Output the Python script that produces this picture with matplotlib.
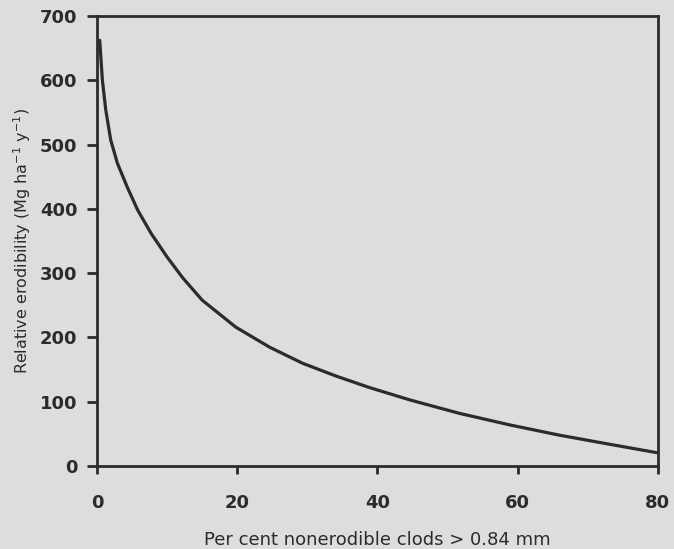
import matplotlib.pyplot as plt

# Values
clods = [0.38, 0.76, 1.24, 1.95, 2.9, 4.3, 5.8, 7.7, 10.0, 12.2, 15.0,
         19.8, 24.6, 29.3, 34.1, 38.9, 44.6, 51.7, 58.9, 66.0, 73.1, 79.8]
erodibility = [662, 600, 554, 507, 471, 434, 398, 362, 325, 293, 258,
               216, 185, 160, 140, 122, 103, 82, 64, 48, 34, 21]

xticks = [0, 20, 40, 60, 80]
yticks = [0, 100, 200, 300, 400, 500, 600, 700]

bg = "#dddddd"
ink = "#2b2b2b"

plt.rcParams["font.family"] = ["DejaVu Sans"]

fig = plt.figure(figsize=(6.74, 5.49), dpi=100, facecolor=bg)
ax = fig.add_axes([0.144, 0.151, 0.832, 0.820], facecolor=bg)

ax.plot(clods, erodibility, color=ink, linewidth=2.3,
        solid_joinstyle="round", solid_capstyle="round")

ax.set_xlim(0, 80)
ax.set_ylim(0, 700)
ax.set_xticks(xticks)
ax.set_yticks(yticks)

for s in ax.spines.values():
    s.set_linewidth(2.0)
    s.set_color(ink)

ax.tick_params(axis="x", length=6, width=2, color=ink, pad=14,
               labelsize=13, labelcolor=ink)
ax.tick_params(axis="y", length=7, width=2, color=ink, pad=7,
               labelsize=13, labelcolor=ink)
for lab in ax.get_xticklabels() + ax.get_yticklabels():
    lab.set_fontweight("bold")

ax.set_xlabel("Per cent nonerodible clods > 0.84 mm", fontsize=13,
              color=ink, labelpad=14)
ax.set_ylabel("Relative erodibility (Mg ha$^{-1}$ y$^{-1}$)", fontsize=11.5,
              color=ink, labelpad=5)

fig.savefig("out.png", dpi=100, facecolor=bg)
